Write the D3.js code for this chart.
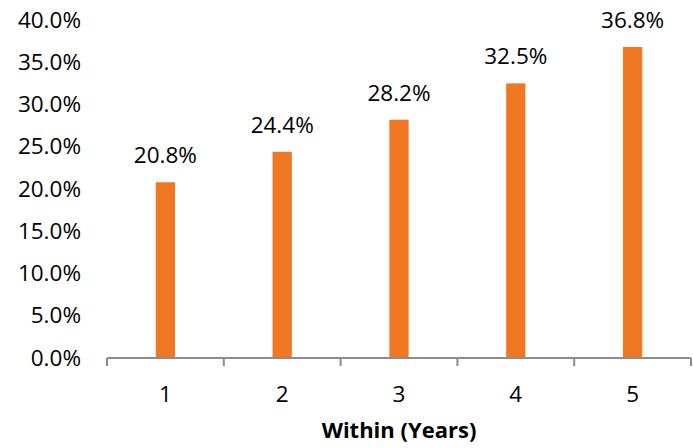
<!DOCTYPE html>
<html>
<head>
<meta charset="utf-8">
<script src="https://cdn.jsdelivr.net/npm/d3@7"></script>
<style>
  html, body { margin: 0; padding: 0; background: #ffffff; }
  svg { display: block; }
  text { font-family: "Open Sans", "Noto Sans", sans-serif; fill: #000; }
</style>
</head>
<body>
<svg id="chart" width="693" height="448"></svg>
<script>
// Share of cases within each number of years
const categories = ["1", "2", "3", "4", "5"];
const values = [20.8, 24.4, 28.2, 32.5, 36.8];
const yTicks = [0, 5, 10, 15, 20, 25, 30, 35, 40];
const xTitle = "Within (Years)";

const svg = d3.select("#chart");
const plotLeft = 107, plotRight = 691, plotTop = 20, plotBottom = 358;

const x = d3.scaleBand().domain(categories).range([plotLeft, plotRight]).padding(0);
const y = d3.scaleLinear().domain([0, 40]).range([plotBottom, plotTop]);
const fmt = d => d.toFixed(1) + "%";

// Y axis: labels only
const yAxis = svg.append("g")
  .attr("transform", `translate(${plotLeft},0)`)
  .call(d3.axisLeft(y).tickValues(yTicks).tickFormat(fmt).tickSize(0).tickPadding(26));
yAxis.select(".domain").remove();
yAxis.selectAll("text")
  .style("font-size", "22.5px")
  .style("font-family", "'Open Sans', sans-serif")
  .attr("fill", "#000");

// Bars
const barW = x.step() * 0.165;
svg.append("g").selectAll("rect")
  .data(values)
  .join("rect")
  .attr("x", (d, i) => x(categories[i]) + x.bandwidth() / 2 - barW / 2)
  .attr("y", d => y(d))
  .attr("width", barW)
  .attr("height", d => y(0) - y(d))
  .attr("fill", "#F07823");

// Value labels
svg.append("g").selectAll("text")
  .data(values)
  .join("text")
  .attr("x", (d, i) => x(categories[i]) + x.bandwidth() / 2)
  .attr("y", d => y(d) - 19)
  .attr("text-anchor", "middle")
  .style("font-size", "22.5px")
  .text(fmt);

// X axis line with boundary ticks
const xg = svg.append("g").attr("stroke", "#8c8c8c").attr("stroke-width", 2).attr("fill", "none");
xg.append("line").attr("x1", plotLeft).attr("x2", plotRight).attr("y1", plotBottom).attr("y2", plotBottom);
const bounds = categories.map(c => x(c)).concat([plotRight]);
xg.selectAll("line.tick")
  .data(bounds)
  .join("line")
  .attr("class", "tick")
  .attr("x1", d => d).attr("x2", d => d)
  .attr("y1", plotBottom).attr("y2", plotBottom + 8);

// Category labels
svg.append("g").selectAll("text")
  .data(categories)
  .join("text")
  .attr("x", d => x(d) + x.bandwidth() / 2)
  .attr("y", 402)
  .attr("text-anchor", "middle")
  .style("font-size", "22.5px")
  .text(d => d);

// Axis title
svg.append("text")
  .attr("x", (plotLeft + plotRight) / 2)
  .attr("y", 438)
  .attr("text-anchor", "middle")
  .style("font-size", "22px")
  .style("font-weight", "bold")
  .text(xTitle);
</script>
</body>
</html>
